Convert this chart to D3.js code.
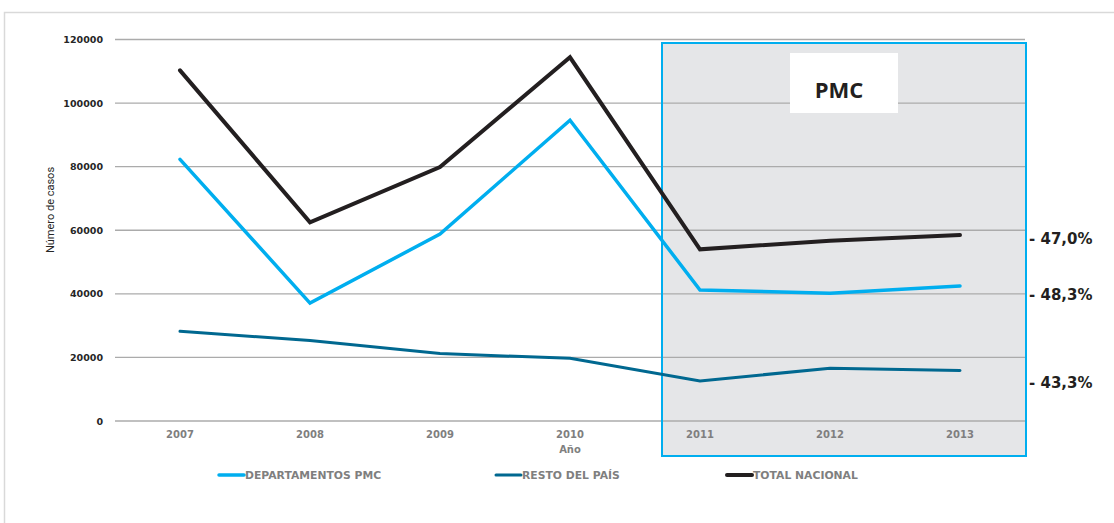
<!DOCTYPE html>
<html>
<head>
<meta charset="utf-8">
<script src="https://cdn.jsdelivr.net/npm/d3@7"></script>
<style>
  body { margin: 0; background: #fff; }
  svg { display: block; }
</style>
</head>
<body>
<svg id="chart" width="1114" height="523"></svg>
<script>
// chart data
const years = ["2007", "2008", "2009", "2010", "2011", "2012", "2013"];
const pmc = [82300, 37100, 58800, 94600, 41200, 40200, 42500];
const resto = [28200, 25300, 21200, 19700, 12600, 16600, 15900];
const total = [110300, 62500, 79900, 114400, 54000, 56700, 58500];
const yTicks = [0, 20000, 40000, 60000, 80000, 100000, 120000];
const pctLabels = ["- 47,0%", "- 48,3%", "- 43,3%"];
const shadedYears = ["2011", "2013"];

const series = [
  { name: "DEPARTAMENTOS PMC", values: pmc, color: "#00aeef", width: 3.5 },
  { name: "RESTO DEL PAÍS", values: resto, color: "#006890", width: 3 },
  { name: "TOTAL NACIONAL", values: total, color: "#231f20", width: 4 },
];

const svg = d3.select("#chart");

// outer frame
svg.append("path")
  .attr("d", "M4.5,523 V12.5 H1114")
  .attr("fill", "none")
  .attr("stroke", "#d9d9d9")
  .attr("stroke-width", 1.5);

const x = d3.scaleBand().domain(years).range([115, 1025]);
const y = d3.scaleLinear().domain([0, 120000]).range([421, 39.5]);
const cx = (yr) => x(yr) + x.bandwidth() / 2;

// shaded PMC period
const boxLeft = cx(shadedYears[0]) - 38;
const boxRight = x(shadedYears[1]) + x.bandwidth() + 1;
svg.append("rect")
  .attr("x", boxLeft)
  .attr("y", 43)
  .attr("width", boxRight - boxLeft)
  .attr("height", 413)
  .attr("fill", "#e5e6e8");

// gridlines
svg.append("g")
  .selectAll("line")
  .data(yTicks)
  .join("line")
  .attr("x1", 115)
  .attr("x2", 1025)
  .attr("y1", (d) => y(d))
  .attr("y2", (d) => y(d))
  .attr("stroke", "#ababab")
  .attr("stroke-width", 1.3);

// box border on top of gridlines
svg.append("rect")
  .attr("x", boxLeft)
  .attr("y", 43)
  .attr("width", boxRight - boxLeft)
  .attr("height", 413)
  .attr("fill", "none")
  .attr("stroke", "#00aeef")
  .attr("stroke-width", 2);

// PMC label
svg.append("rect")
  .attr("x", 790).attr("y", 53)
  .attr("width", 108).attr("height", 60)
  .attr("fill", "#fff");
svg.append("text")
  .attr("x", 839).attr("y", 98)
  .attr("text-anchor", "middle")
  .attr("font-family", "'Open Sans', sans-serif")
  .attr("font-weight", "bold")
  .attr("font-size", 22)
  .attr("fill", "#231f20")
  .text("PMC");

// y axis labels
svg.append("g")
  .selectAll("text")
  .data(yTicks)
  .join("text")
  .attr("x", 103)
  .attr("y", (d) => y(d) + 3.5)
  .attr("text-anchor", "end")
  .attr("font-family", "'DejaVu Sans', sans-serif")
  .attr("font-weight", "bold")
  .attr("font-size", 9.5)
  .attr("fill", "#262626")
  .text((d) => d);

svg.append("text")
  .attr("transform", "translate(54,210) rotate(-90)")
  .attr("text-anchor", "middle")
  .attr("font-family", "'Liberation Sans Narrow', 'Roboto', sans-serif")
  .attr("font-size", 11)
  .attr("fill", "#262626")
  .text("Número de casos");

// x axis labels
svg.append("g")
  .selectAll("text")
  .data(years)
  .join("text")
  .attr("x", (d) => cx(d))
  .attr("y", 438)
  .attr("text-anchor", "middle")
  .attr("font-family", "'DejaVu Sans', sans-serif")
  .attr("font-weight", "bold")
  .attr("font-size", 10)
  .attr("fill", "#7f7f7f")
  .text((d) => d);

svg.append("text")
  .attr("x", cx("2010")).attr("y", 453)
  .attr("text-anchor", "middle")
  .attr("font-family", "'DejaVu Sans', sans-serif")
  .attr("font-weight", "bold")
  .attr("font-size", 10)
  .attr("fill", "#7f7f7f")
  .text("Año");

// lines
const line = d3.line()
  .x((d, i) => cx(years[i]))
  .y((d) => y(d));

svg.append("g")
  .selectAll("path")
  .data(series)
  .join("path")
  .attr("d", (s) => line(s.values))
  .attr("fill", "none")
  .attr("stroke", (s) => s.color)
  .attr("stroke-width", (s) => s.width)
  .attr("stroke-linecap", "round")
  .attr("stroke-linejoin", "miter");

// percentage labels on right
const pctY = [239, 295, 383];
svg.append("g")
  .selectAll("text")
  .data(pctLabels)
  .join("text")
  .attr("x", 1029)
  .attr("y", (d, i) => pctY[i] + 5)
  .attr("font-family", "'DejaVu Sans', sans-serif")
  .attr("font-weight", "bold")
  .attr("font-size", 15)
  .attr("fill", "#231f20")
  .text((d) => d);

// legend
const legendX = [219, 496, 727];
const legend = svg.append("g")
  .selectAll("g")
  .data(series)
  .join("g")
  .attr("transform", (d, i) => `translate(${legendX[i]},475)`);
legend.append("line")
  .attr("x1", 0).attr("x2", 25)
  .attr("stroke", (s) => s.color)
  .attr("stroke-width", (s) => s.width)
  .attr("stroke-linecap", "round");
legend.append("text")
  .attr("x", 26)
  .attr("y", 4)
  .attr("font-family", "'DejaVu Sans', sans-serif")
  .attr("font-weight", "bold")
  .attr("font-size", 10.8)
  .attr("fill", "#7f7f7f")
  .text((s) => s.name);
</script>
</body>
</html>
